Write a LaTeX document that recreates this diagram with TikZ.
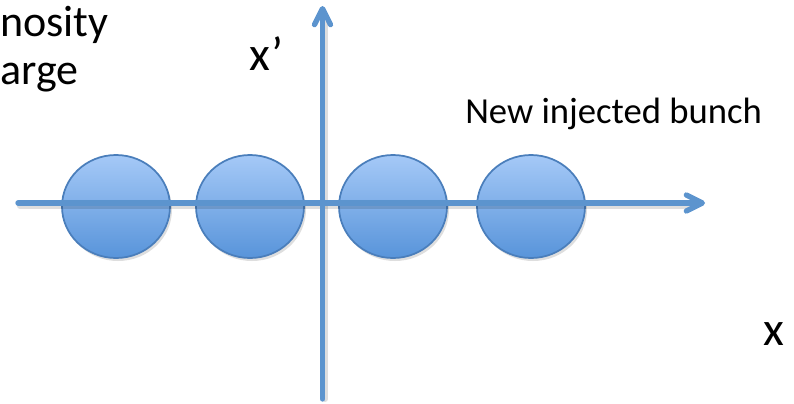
\documentclass[tikz,border=0pt]{standalone}
\usepackage{fontspec}
\setmainfont{Carlito}
\usetikzlibrary{arrows.meta}
\definecolor{axisblue}{RGB}{92,148,206}
\definecolor{bunchtop}{RGB}{165,201,247}
\definecolor{bunchbot}{RGB}{88,148,218}
\definecolor{bunchedge}{RGB}{74,126,187}
\tikzset{
  px/.style={x=0.75pt,y=-0.75pt},
  bunch/.style={draw=bunchedge,line width=1.3pt,top color=bunchtop,bottom color=bunchbot},
  bunchshadow/.style={fill=black,opacity=0.13},
  axis/.style={draw=axisblue,line width=4pt,line cap=round,
    -{Straight Barb[length=12pt,width=12pt,round]}},
  axisshadow/.style={draw=black,opacity=0.13,line width=4.5pt,line cap=round},
  bigtext/.style={inner sep=0pt,anchor=base west,font=\fontsize{33}{39}\selectfont},
  labtext/.style={inner sep=0pt,anchor=base west,font=\fontsize{36}{43}\selectfont},
  smalltext/.style={inner sep=0pt,anchor=base west,font=\fontsize{27.5}{33}\selectfont}
}
\begin{document}
\begin{tikzpicture}[px]
\useasboundingbox (0,0) rectangle (794,404);
% bunches
\foreach \cx [count=\i] in {116,250,393,531}{
  \fill[bunchshadow] (\cx+2,209.5) ellipse [x radius=54, y radius=51.5];
  \path[bunch] (\cx,206.5) ellipse [x radius=54, y radius=51.5];
  \coordinate (b\i) at (\cx,206.5);
}
% axes
\coordinate (hstart) at (18,203);
\coordinate (hend) at (705,203);
\coordinate (vstart) at (322.5,399);
\coordinate (vend) at (322.5,6);
\draw[axisshadow] ([shift={(2,3)}]hstart) -- ([shift={(-18,3)}]hend);
\draw[axisshadow] ([shift={(2.5,0)}]vstart) -- ([shift={(2.5,18)}]vend);
\draw[axis] (hstart) -- (hend);
\draw[axis] (vstart) -- (vend);
% texts
\node[bigtext] (t1) at (0,36) {nosity};
\node[bigtext] (t2) at (0,84) {arge};
\node[labtext] (xp) at (249,70) {x’};
\node[smalltext] (nb) at (465,123) {New injected bunch};
\node[labtext] (xl) at (763,345) {x};
\end{tikzpicture}
\end{document}
